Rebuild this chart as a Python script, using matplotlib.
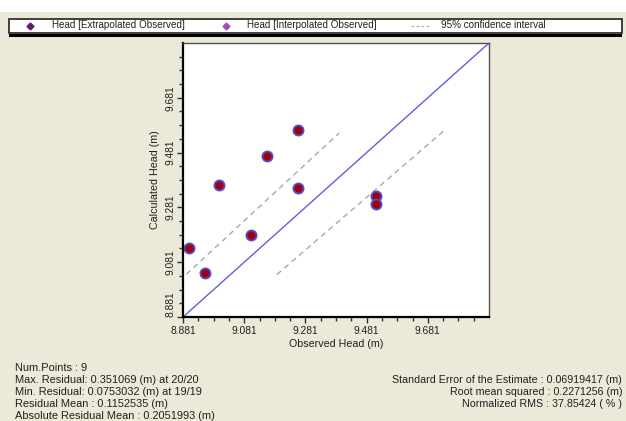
import numpy as np
import matplotlib.pyplot as plt
from matplotlib.patches import Rectangle
from matplotlib.lines import Line2D
from matplotlib.ticker import FixedLocator

plt.rcParams['font.family'] = ['Liberation Sans', 'DejaVu Sans']

# observed vs calculated head (m)
observed = [8.900, 8.952, 8.999, 9.104, 9.154, 9.257, 9.257, 9.513, 9.513]
calculated = [9.132, 9.040, 9.361, 9.182, 9.469, 9.563, 9.352, 9.324, 9.293]

# 95% confidence interval lines (end points)
upper_x = [8.892, 9.391]
upper_y = [9.037, 9.552]
lower_x = [9.188, 9.733]
lower_y = [9.036, 9.560]

axis_min, axis_max = 8.881, 9.881
tick_labels = ["8.881", "9.081", "9.281", "9.481", "9.681"]

stats_left = [
    "Num.Points : 9",
    "Max. Residual: 0.351069 (m) at 20/20",
    "Min. Residual: 0.0753032 (m) at 19/19",
    "Residual Mean : 0.1152535 (m)",
    "Absolute Residual Mean : 0.2051993 (m)",
]
stats_right = [
    "Standard Error of the Estimate : 0.06919417 (m)",
    "Root mean squared : 0.2271256 (m)",
    "Normalized RMS : 37.85424 ( % )",
]

W, H = 626, 421
bg = "#ece9d8"
txt = "#202020"
fig = plt.figure(figsize=(W / 100, H / 100), dpi=100, facecolor=bg)


def fx(px):
    return px / W


def fy(py):
    return 1 - py / H


# white strip at the very top
fig.add_artist(Rectangle((0, fy(12)), 1, 12 / H, transform=fig.transFigure,
                         facecolor="white", edgecolor="none"))

# legend box
fig.add_artist(Rectangle((fx(9), fy(33)), fx(613), 14 / H, transform=fig.transFigure,
                         facecolor="white", edgecolor="#202020", linewidth=1.2))
fig.add_artist(Rectangle((fx(9), fy(37)), fx(613), 3 / H, transform=fig.transFigure,
                         facecolor="black", edgecolor="none"))
ly = fy(25.5)
fig.add_artist(Line2D([fx(30)], [ly], transform=fig.transFigure, marker="D",
                      markersize=3.5, color="#5e1a6e", linestyle="none"))
fig.text(fx(52), ly, "Head [Extrapolated Observed]", fontsize=7.1, va="center", color=txt)
fig.add_artist(Line2D([fx(226)], [ly], transform=fig.transFigure, marker="D",
                      markersize=3.5, color="#a050c0", linestyle="none"))
fig.text(fx(247), ly, "Head [Interpolated Observed]", fontsize=7.1, va="center", color=txt)
fig.add_artist(Line2D([fx(411), fx(430)], [ly, ly], transform=fig.transFigure,
                      color="#b0b0b0", linestyle=(0, (2.5, 2)), linewidth=0.8))
fig.text(fx(441), ly, "95% confidence interval", fontsize=7.1, va="center", color=txt)

ax = fig.add_axes([fx(183), fy(317), fx(306), 274 / H])
ax.set_facecolor("white")

ax.plot([axis_min, axis_max], [axis_min, axis_max], color="#6060dd", linewidth=1)
ax.plot(upper_x, upper_y, color="#a8a8a8", linestyle=(0, (4, 3)), linewidth=1)
ax.plot(lower_x, lower_y, color="#a8a8a8", linestyle=(0, (4, 3)), linewidth=1)
ax.plot(observed, calculated, "o", markersize=7.3, markerfacecolor="#a00010",
        markeredgecolor="#5050d0", markeredgewidth=1.3, linestyle="none")

ax.set_xlim(axis_min, axis_max)
ax.set_ylim(axis_min, axis_max)
major = [axis_min + 0.2 * i for i in range(len(tick_labels))]
ax.xaxis.set_major_locator(FixedLocator(major))
ax.yaxis.set_major_locator(FixedLocator(major))
ax.xaxis.set_minor_locator(FixedLocator(np.arange(axis_min, axis_max, 0.05)))
ax.yaxis.set_minor_locator(FixedLocator(np.arange(axis_min, axis_max, 0.05)))
ax.set_xticklabels(tick_labels)
ax.set_yticklabels(tick_labels, rotation=90, va="center")
# lowest y label sits above the corner so it does not hit the x label
ax.get_yticklabels()[0].set_va("bottom")
ax.tick_params(which="both", direction="out", color="#303030", labelsize=7.4,
               labelcolor=txt)
ax.tick_params(which="major", length=4.5, width=1)
ax.tick_params(which="minor", length=3, width=1)
ax.tick_params(axis="x", pad=2)
ax.tick_params(axis="y", pad=1)

for side in ["left", "bottom"]:
    ax.spines[side].set_color("black")
    ax.spines[side].set_linewidth(1.6)
for side in ["top", "right"]:
    ax.spines[side].set_color("#505050")
    ax.spines[side].set_linewidth(1)

ax.set_xlabel("Observed Head (m)", fontsize=7.7, color=txt, labelpad=2)
ax.set_ylabel("Calculated Head (m)", fontsize=7.7, color=txt, labelpad=4)

for i, s in enumerate(stats_left):
    fig.text(fx(15), fy(368 + 12 * i), s, fontsize=7.9, va="center", color=txt)
for i, s in enumerate(stats_right):
    fig.text(fx(622), fy(380 + 12 * i), s, fontsize=7.7, va="center", ha="right",
             color=txt)

fig.savefig("out.png", dpi=100, facecolor=bg)
